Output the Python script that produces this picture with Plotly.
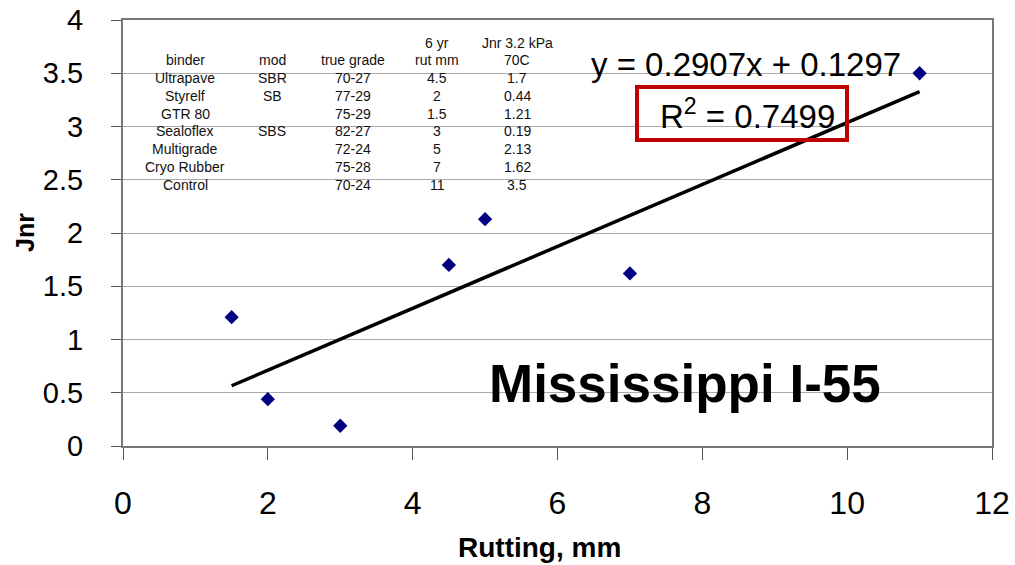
import plotly.graph_objects as go

binders = ["Ultrapave", "Styrelf", "GTR 80", "Sealoflex", "Multigrade", "Cryo Rubber", "Control"]
mods = ["SBR", "SB", "", "SBS", "", "", ""]
grades = ["70-27", "77-29", "75-29", "82-27", "72-24", "75-28", "70-24"]
rut_mm = [4.5, 2, 1.5, 3, 5, 7, 11]
jnr = [1.7, 0.44, 1.21, 0.19, 2.13, 1.62, 3.5]
slope, intercept = 0.2907, 0.1297
trend_x = [min(rut_mm), max(rut_mm)]
trend_y = [slope * v + intercept for v in trend_x]
x_ticks = [0, 2, 4, 6, 8, 10, 12]
y_ticks = [0, 0.5, 1, 1.5, 2, 2.5, 3, 3.5, 4]

W, H = 1015, 565
L, R, T, B = 123, 23, 20, 119
PW, PH = W - L - R, H - T - B

def px(xp):
    return (xp - L) / PW

def py(yp):
    return (H - B - yp) / PH

fig = go.Figure()
fig.add_trace(go.Scatter(x=trend_x, y=trend_y, mode="lines",
                         line=dict(color="black", width=3.5), showlegend=False))
fig.add_trace(go.Scatter(x=rut_mm, y=jnr, mode="markers",
                         marker=dict(symbol="diamond", size=11, color="#000080"),
                         showlegend=False))

font = "Liberation Sans, Arial, sans-serif"
ann = []
cols_x = [185, 272, 353, 437, 517]
ann.append(dict(text="6 yr", x=px(437), y=py(43)))
ann.append(dict(text="Jnr 3.2 kPa", x=px(517), y=py(43)))
headers = ["binder", "mod", "true grade", "rut mm", "70C"]
for cx, h in zip(cols_x, headers):
    ann.append(dict(text=h, x=px(cx), y=py(60)))
for i in range(len(binders)):
    yy = 78 + i * 17.8
    row = [binders[i], mods[i], grades[i], f"{rut_mm[i]:g}", f"{jnr[i]:g}"]
    for cx, v in zip(cols_x, row):
        if v:
            ann.append(dict(text=v, x=px(cx), y=py(yy)))
annotations = [dict(a, xref="paper", yref="paper", showarrow=False,
                    xanchor="center", yanchor="middle",
                    font=dict(family=font, size=14, color="#111")) for a in ann]

def big(text, xp, yp, size, angle=0):
    return dict(text=text, x=px(xp), y=py(yp), xref="paper", yref="paper",
                showarrow=False, xanchor="center", yanchor="middle",
                textangle=angle, font=dict(family=font, size=size, color="black"))

annotations.append(big("y = 0.2907x + 0.1297", 746, 64, 33))
annotations.append(big("R<sup>2</sup> = 0.7499", 747, 114, 33))
annotations.append(big("<b>Mississippi I-55</b>", 685, 383, 53))
annotations.append(big("<b>Rutting, mm</b>", 539, 547, 28))
annotations.append(big("<b>Jnr</b>", 25, 233, 25, angle=-90))

fig.add_shape(type="rect", xref="paper", yref="paper",
              x0=px(637), x1=px(847), y0=py(140), y1=py(87),
              line=dict(color="#C00000", width=4))

fig.update_layout(
    width=W, height=H,
    margin=dict(l=L, r=R, t=T, b=B),
    paper_bgcolor="white", plot_bgcolor="white",
    annotations=annotations,
    font=dict(family=font, color="black"),
    xaxis=dict(range=[0, 12], tickvals=x_ticks, showgrid=False, zeroline=False,
               showline=True, linecolor="#777", linewidth=2, mirror=True,
               ticks="outside", ticklen=12, tickcolor="#555", tickwidth=1,
               ticklabelstandoff=16, automargin=False,
               tickfont=dict(family=font, size=32)),
    yaxis=dict(range=[0, 4], tickvals=y_ticks, showgrid=True, gridcolor="#aaaaaa",
               gridwidth=1, zeroline=False,
               showline=True, linecolor="#777", linewidth=2, mirror=True,
               ticks="outside", ticklen=10, tickcolor="#555", tickwidth=1,
               ticklabelstandoff=22, automargin=False,
               tickfont=dict(family=font, size=29)),
)

fig.write_html("out.html")
